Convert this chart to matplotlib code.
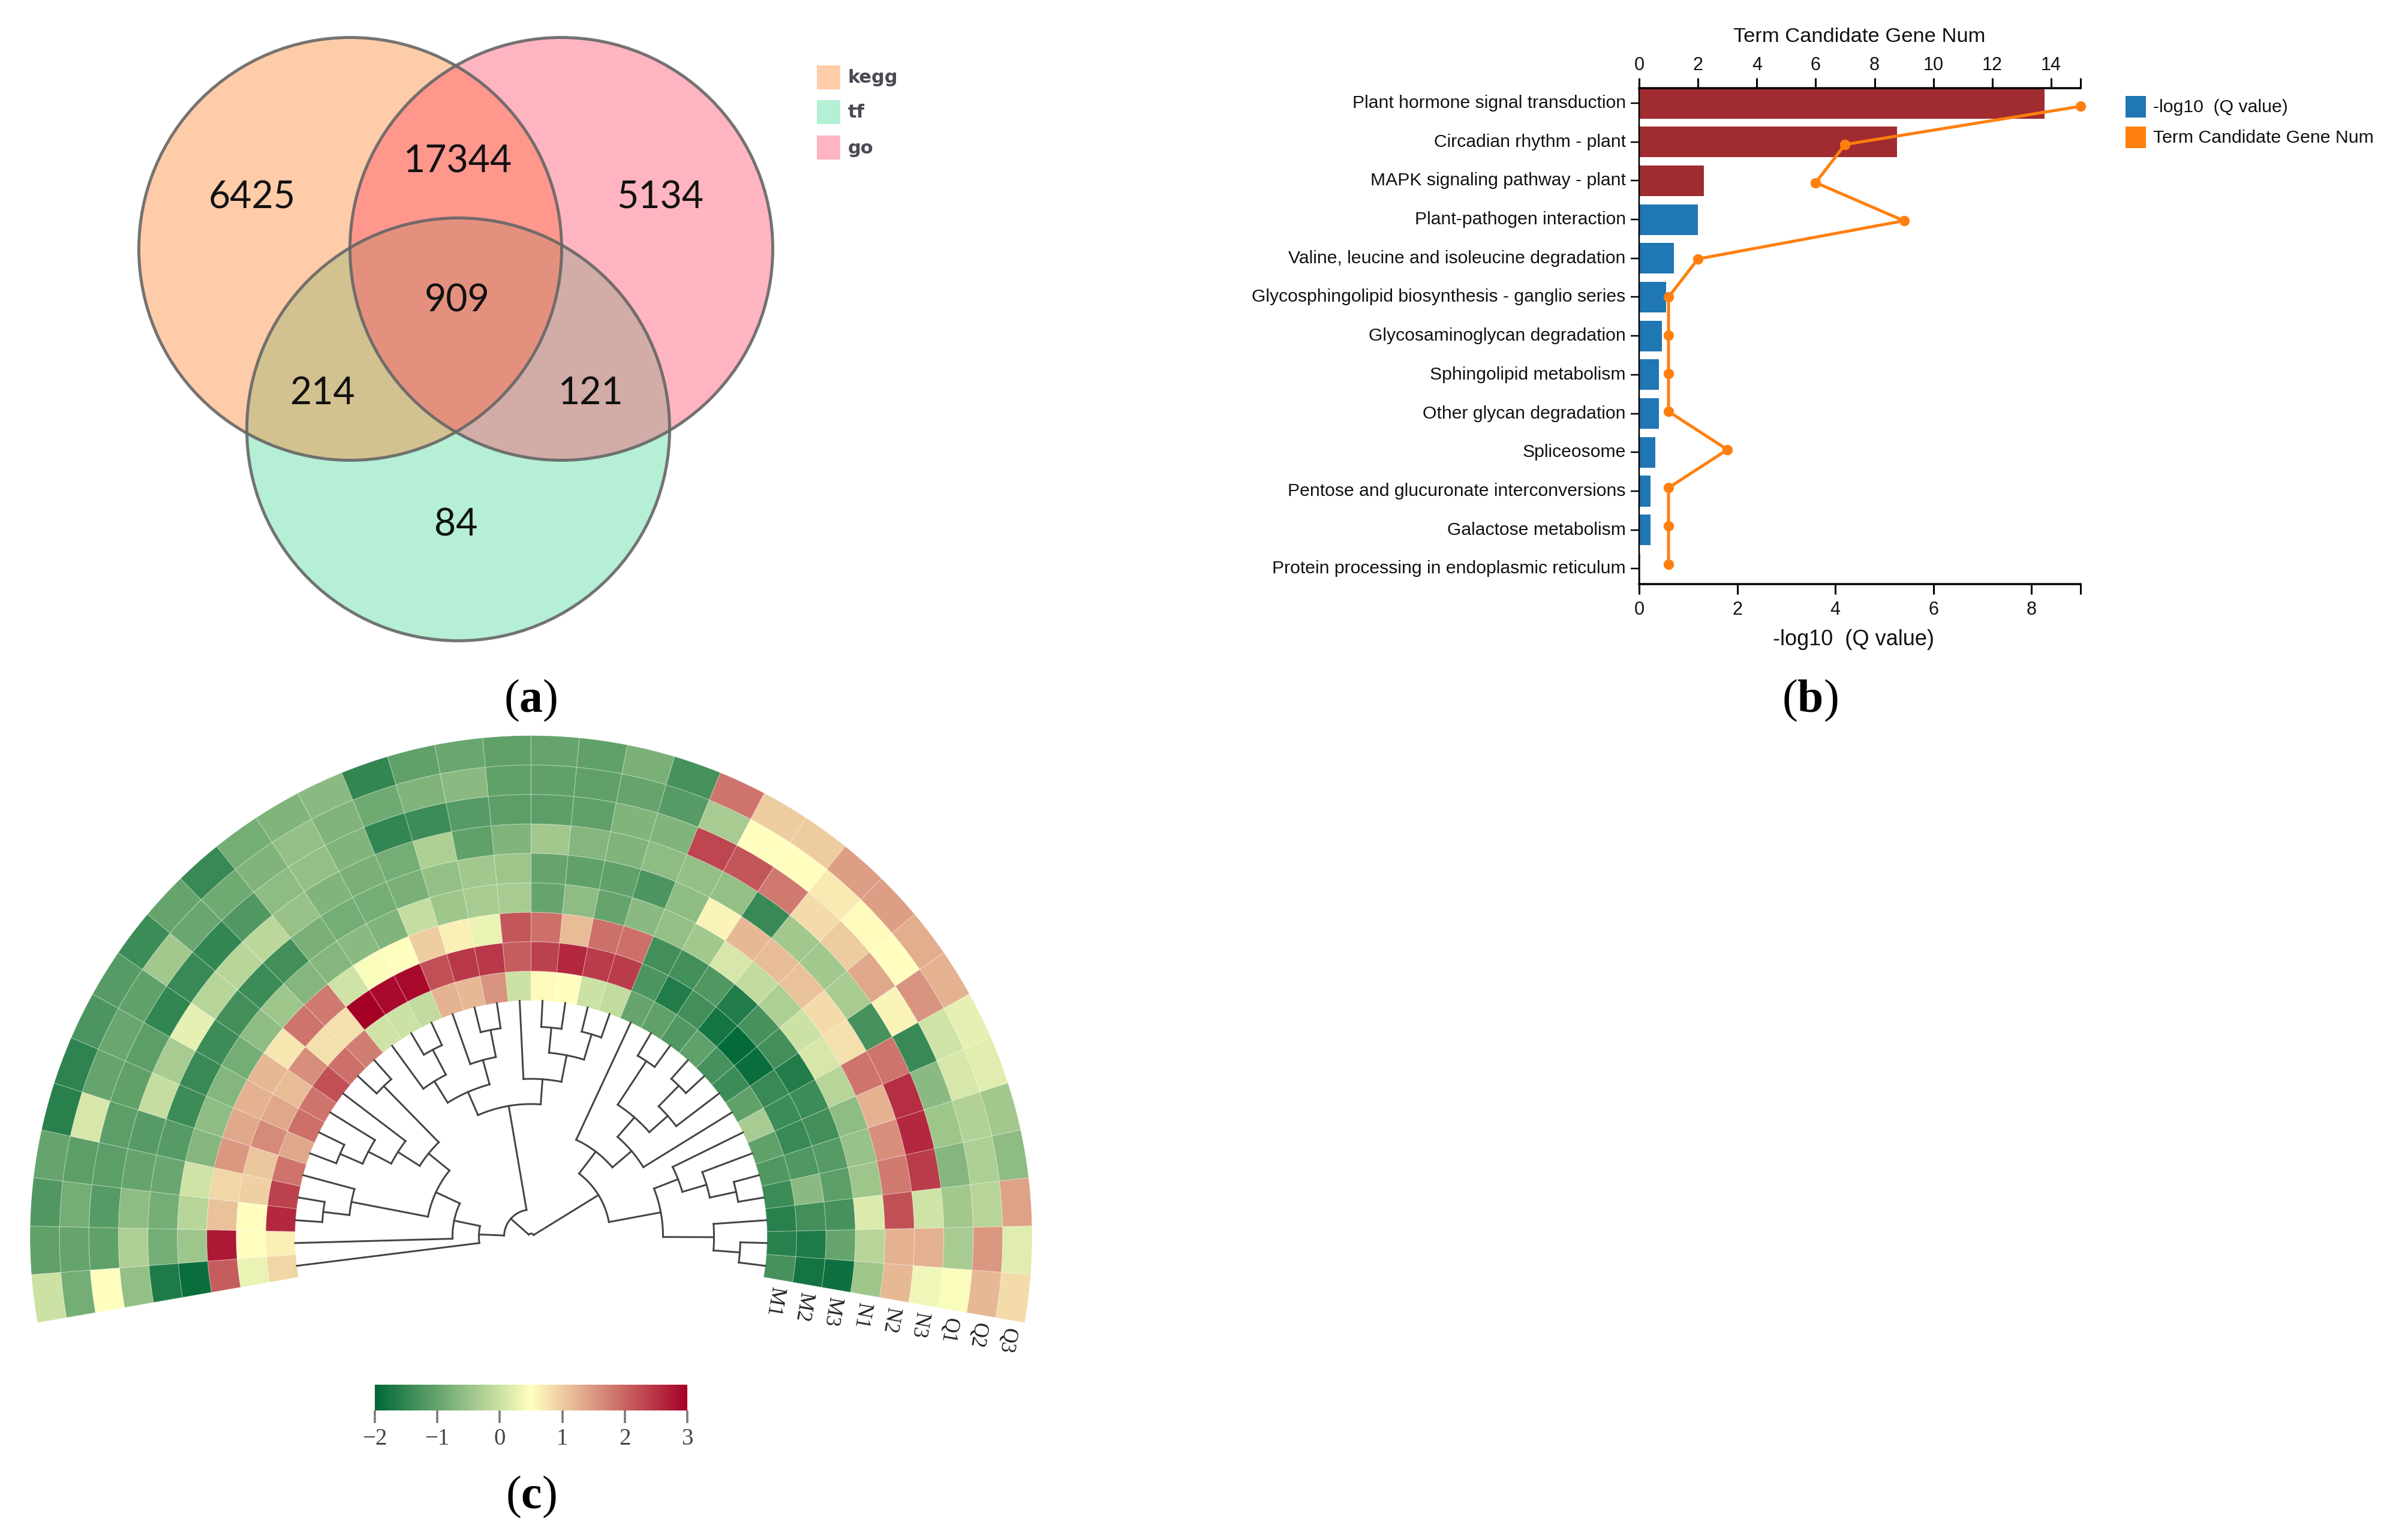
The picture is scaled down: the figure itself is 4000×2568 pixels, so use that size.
import numpy as np
import matplotlib
matplotlib.use("Agg")
import matplotlib.pyplot as plt
from matplotlib.colors import LinearSegmentedColormap, Normalize
from matplotlib.cm import ScalarMappable
from matplotlib.patches import Circle, Rectangle
from matplotlib.transforms import ScaledTranslation

plt.rcParams['mathtext.fontset'] = 'custom'
plt.rcParams['mathtext.rm'] = 'Liberation Serif'
plt.rcParams['mathtext.bf'] = 'Liberation Serif:bold'

W, H = 4000, 2568
PX = 72 / 100  # points per pixel

# ---------- data : venn ----------
venn_names = ['kegg', 'tf', 'go']
venn_colors = ['#FF802A', '#46D996', '#FF4864']
venn_counts = ['6425', '17344', '5134', '909', '214', '121', '84']

# ---------- data : enrichment ----------
terms = ['Plant hormone signal transduction', 'Circadian rhythm - plant',
         'MAPK signaling pathway - plant', 'Plant-pathogen interaction',
         'Valine, leucine and isoleucine degradation',
         'Glycosphingolipid biosynthesis - ganglio series',
         'Glycosaminoglycan degradation', 'Sphingolipid metabolism',
         'Other glycan degradation', 'Spliceosome',
         'Pentose and glucuronate interconversions',
         'Galactose metabolism', 'Protein processing in endoplasmic reticulum']
qvalue = [8.27, 5.26, 1.32, 1.20, 0.71, 0.55, 0.47, 0.40, 0.40, 0.33, 0.23, 0.23, 0.02]
gene_num = [15, 7, 6, 9, 2, 1, 1, 1, 1, 3, 1, 1, 1]

# ---------- data : circular heatmap (one list per ring, inner to outer) ----------
samples = ['M1', 'M2', 'M3', 'N1', 'N2', 'N3', 'Q1', 'Q2', 'Q3']
M1 = [0.9, 0.65, 2.6, 2.35, 1.85, 1.35, 1.9, 1.85, 2.2, 1.9, 1.75, 0.05, 0.0, -0.1, 1.25, 1.2, 1.55, 0.0,
      0.55, 0.5, 0.0, -0.1, -1.0, -1.05, -1.2, -1.05, -1.3, -1.4, -1.05, -0.35, -1.05, -1.2, -1.4, -1.6, -1.6, -1.3]
M2 = [0.3, 0.5, 0.5, 0.95, 1.05, 1.65, 1.35, 1.15, 1.6, 0.8, 0.8, 3.0, 2.9, 2.9, 2.2, 2.45, 2.45, 2.1,
      2.35, 2.6, 2.4, 2.4, -1.25, -1.65, -1.35, -1.8, -1.95, -1.9, -1.45, -1.4, -1.45, -1.2, -0.65, -1.35, -1.7, -1.8]
M3 = [2.1, 2.75, 1.1, 0.9, 1.5, 1.35, 1.25, 1.2, 0.75, 1.85, 1.8, 0.05, 0.45, 0.5, 1.0, 0.65, 0.3, 2.15,
      1.9, 1.15, 1.9, 1.9, -1.35, -1.35, -1.2, -1.65, -1.3, -1.35, -1.65, -1.4, -1.35, -1.15, -1.1, -1.3, -1.0, -1.85]
N1 = [-1.9, -0.45, -0.2, 0.05, -0.7, -0.6, -0.7, -0.85, -0.6, -0.45, -0.7, -0.7, -0.65, -0.75, -0.05, -0.45, -0.35, -0.35,
      -1.0, -0.6, -1.0, -0.65, -0.55, -0.4, 0.1, -0.1, -0.3, 0.0, 0.1, -0.2, -0.6, -0.5, -0.45, 0.15, -0.2, -0.45]
N2 = [-1.7, -0.85, -0.85, -0.95, -1.15, -1.4, -1.45, -1.4, -1.35, -1.4, -1.35, -0.8, -0.85, -0.85, -0.8, -0.55, -0.4, -0.45,
      -1.0, -1.05, -1.05, -1.25, -0.6, 0.6, 1.2, 1.15, 1.1, 0.85, 0.8, 1.85, 1.25, 1.6, 1.8, 2.2, 1.25, 1.2]
N3 = [-0.55, -0.3, -0.6, -1.0, -1.15, -0.05, -0.35, 0.25, -0.2, -0.2, -0.15, -0.5, -0.75, -0.8, -0.85, -0.3, -1.05, -0.75,
      -0.4, -0.7, -0.75, -0.6, -0.55, -0.55, -1.45, -0.4, -0.4, -0.35, -1.3, 1.85, 2.55, 2.6, 2.4, 0.05, 1.25, 0.35]
Q1 = [0.5, -1.05, -1.15, -1.1, -1.1, -1.05, -1.1, -1.5, -1.45, -1.5, -1.2, -0.6, -0.55, -0.75, -1.5, -1.4, -1.15, -1.1,
      -1.1, -1.05, -0.75, -0.75, 2.3, 2.15, 1.8, 0.85, 1.0, 1.35, 0.6, -1.45, -0.65, -0.45, -0.7, -0.4, -0.35, 0.45]
Q2 = [-0.85, -1.0, -0.85, -1.1, 0.1, -1.0, -0.95, -1.05, -0.4, -0.95, -0.9, -0.75, -0.55, -0.75, -0.9, -0.75, -0.65, -1.05,
      -1.05, -1.05, -1.0, -1.15, -0.35, 0.5, 0.5, 0.7, 0.55, 0.5, 1.55, 0.05, 0.1, -0.25, -0.3, -0.2, 1.5, 1.2]
Q3 = [0.0, -1.05, -1.2, -1.0, -1.6, -1.55, -1.25, -1.15, -1.4, -1.0, -1.45, -0.85, -0.75, -0.65, -1.5, -1.05, -0.95, -1.05,
      -1.0, -1.05, -0.8, -1.3, 1.85, 1.0, 1.0, 1.45, 1.45, 1.3, 1.25, 0.25, 0.2, -0.4, -0.6, 1.4, 0.2, 0.85]
rings = [M1, M2, M3, N1, N2, N3, Q1, Q2, Q3]
cbar_ticks = [-2, -1, 0, 1, 2, 3]

# ---------- data : dendrogram, nodes are (merge radius, child, child), leaves are columns ----------
clade_a = (87, 0, (131, 1, (175,
        (305, (349, 2, 3), 4),
        (220, (263, (306, (347, 5, 6), 7), 8), (351, 9, 10)))))
clade_b = (221,
        (263, (305, 11, (352, 12, 13)), (305, 14, (351, 15, 16))),
        (263, 17, (308, (350, 18, 19), (352, 20, 21))))
clade_c = (178, 22, (220,
        (263, (350, 23, 24), (304, (352, 25, 26), 27)), 28))
clade_d = (220,
        (263, 29, (305, 30, (350, 31, 32))),
        (305, 33, (349, 34, 35)))
tree = (5, (45, clade_a, clade_b), (132, clade_c, clade_d))


def rect(x0, y0, x1, y1):
    return [x0 / W, 1 - y1 / H, (x1 - x0) / W, (y1 - y0) / H]


fig = plt.figure(figsize=(40, 25.68), dpi=100, facecolor='white')

# ---------- page axes in pixel units: venn, legends, captions ----------
page = fig.add_axes([0, 0, 1, 1])
page.set_xlim(0, W)
page.set_ylim(H, 0)
page.axis('off')

venn_xy = {'tf': (764, 716), 'kegg': (584, 415), 'go': (936, 415)}
venn_r = 352.5
for name in ['tf', 'kegg', 'go']:
    col = venn_colors[venn_names.index(name)]
    page.add_patch(Circle(venn_xy[name], venn_r, fc=col, ec='none', alpha=0.4))
for name in ['tf', 'kegg', 'go']:
    page.add_patch(Circle(venn_xy[name], venn_r, fc='none', ec='#666666', lw=5 * PX, alpha=0.9))
count_xy = [(420, 330), (764, 269), (1101, 330), (762, 502), (537, 656), (985, 656), (760, 876)]
for s, (x, y) in zip(venn_counts, count_xy):
    page.text(x, y, s, ha='center', va='center', fontsize=45, family='Lato', color='#111111')
for i, (name, yy) in enumerate(zip(venn_names, [129, 187, 246])):
    col = venn_colors[i]
    page.add_patch(Rectangle((1362, yy - 20), 39, 40, fc=col, ec='none', alpha=0.4))
    page.text(1414, yy + 1, name, ha='left', va='center', fontsize=22, family='DejaVu Sans',
              weight='bold', color='#4a4a55')

for letter, x, y in [('a', 885, 1168), ('b', 3018, 1168), ('c', 885, 2496)]:
    page.text(x, y, '(' + r'$\mathbf{' + letter + '}$' + ')', ha='center', va='center', fontsize=56,
              family='Liberation Serif', color='black')

# ---------- enrichment chart ----------
bar_rect = rect(2733, 147, 3469, 974)
ax = fig.add_axes(bar_rect)
ax.patch.set_alpha(0)
bar_colors = ['#A02B30'] * 3 + ['#1F77B4'] * 10
ax.barh(range(len(terms)), qvalue, height=0.79, color=bar_colors, edgecolor='none')
ax.set_xlim(0, 9)
ax.set_ylim(12.396, -0.386)
ax.set_yticks(range(len(terms)))
ax.set_yticklabels(terms, fontsize=21.7, family='Liberation Sans', color='#111111')
ax.set_xticks([0, 2, 4, 6, 8, 9])
ax.set_xticklabels(['0', '2', '4', '6', '8', ''], fontsize=22, family='Liberation Sans', color='#111111')
ax.tick_params(axis='y', length=14 * PX, width=2.5 * PX, pad=6)
ax.tick_params(axis='x', length=17 * PX, width=3 * PX, pad=8)
up = ScaledTranslation(0, 3 / 100, fig.dpi_scale_trans)
for lab in ax.get_yticklabels():
    lab.set_transform(lab.get_transform() + up)
for s in ['top', 'right']:
    ax.spines[s].set_visible(False)
ax.spines['bottom'].set_linewidth(3.5 * PX)
ax.spines['left'].set_linewidth(2.5 * PX)
ax.set_xlabel('-log10  (Q value)', fontsize=26, family='Liberation Sans', color='#111111')
ax.xaxis.set_label_coords((3090 - 2733) / 736, -(1066 - 974) / 827)
ax.xaxis.label.set_va('center')

top = fig.add_axes(bar_rect)
top.patch.set_alpha(0)
top.plot(gene_num, range(len(terms)), color='#FF7F0E', lw=5 * PX, marker='o', ms=16 * PX, clip_on=False)
top.set_xlim(0, 15)
top.set_ylim(12.524, -0.476)
top.set_yticks([])
top.xaxis.tick_top()
top.set_xticks([0, 2, 4, 6, 8, 10, 12, 14, 15])
top.set_xticklabels(['0', '2', '4', '6', '8', '10', '12', '14', ''], fontsize=22, family='Liberation Sans', color='#111111')
top.tick_params(axis='x', length=17 * PX, width=3 * PX, pad=4.5)
for s in ['left', 'right', 'bottom']:
    top.spines[s].set_visible(False)
top.spines['top'].set_linewidth(3.5 * PX)
page.text(3100, 62, 'Term Candidate Gene Num', ha='center', va='center', fontsize=24.8,
          family='Liberation Sans', color='#111111')

for yy, col, lab in [(178, '#1F77B4', '-log10  (Q value)'), (229, '#FF7F0E', 'Term Candidate Gene Num')]:
    page.add_patch(Rectangle((3544, yy - 18), 34, 36, fc=col, ec='none'))
    page.text(3590, yy + 1, lab, ha='left', va='center', fontsize=21.8, family='Liberation Sans', color='#111111')

# ---------- circular heatmap ----------
cx, cy, r_out, r_in = 885.5, 2062, 835.5, 393.5
pol = fig.add_axes(rect(cx - r_out, cy - r_out, cx + r_out, cy + r_out), projection='polar')
pol.set_axis_off()
pol.patch.set_alpha(0)
n_cols = len(M1)
start, stop = np.deg2rad(189.9), np.deg2rad(-9.9)
step = (start - stop) / n_cols
ring_w = (r_out - r_in) / len(rings)
cmap = LinearSegmentedColormap.from_list('hm', ['#006837', '#FFFFBF', '#A50026'])
norm = Normalize(-2, 3)


def col_theta(k):
    return start - (k + 0.5) * step


thetas = [col_theta(k) for k in range(n_cols)]
for i, ring in enumerate(rings):
    pol.bar(thetas, ring_w, width=step, bottom=r_in + i * ring_w, color=cmap(norm(np.array(ring))),
            edgecolor=(1, 1, 1, 0.28), linewidth=1.2 * PX)

tree_style = dict(color='#444444', lw=3 * PX, solid_capstyle='projecting', solid_joinstyle='miter')


def draw(node):
    if isinstance(node, int):
        return col_theta(node), r_in
    r, a, b = node
    ta, ra = draw(a)
    tb, rb = draw(b)
    pol.plot([ta, ta], [r, ra], **tree_style)
    pol.plot([tb, tb], [r, rb], **tree_style)
    pol.plot(np.linspace(ta, tb, 60), [r] * 60, **tree_style)
    return (ta + tb) / 2, r


draw(tree)
pol.set_ylim(0, r_out)

for i, s in enumerate(samples):
    r = r_in + (i + 0.5) * ring_w
    pol.text(stop - 13 / r, r, s, rotation=-99.9, rotation_mode='anchor', ha='left', va='center',
             fontsize=25, family='Liberation Serif', color='#222222', clip_on=False)

# ---------- colour bar ----------
cax = fig.add_axes(rect(625, 2309, 1146, 2352))
cb = fig.colorbar(ScalarMappable(norm=norm, cmap=cmap), cax=cax, orientation='horizontal', ticks=cbar_ticks)
cb.outline.set_visible(False)
cax.tick_params(axis='x', length=21 * PX, width=3.5 * PX, color='#777777', labelcolor='#444444',
                labelsize=28, pad=6, labelfontfamily='Liberation Serif')

fig.savefig('out.png', dpi=100, facecolor='white')
